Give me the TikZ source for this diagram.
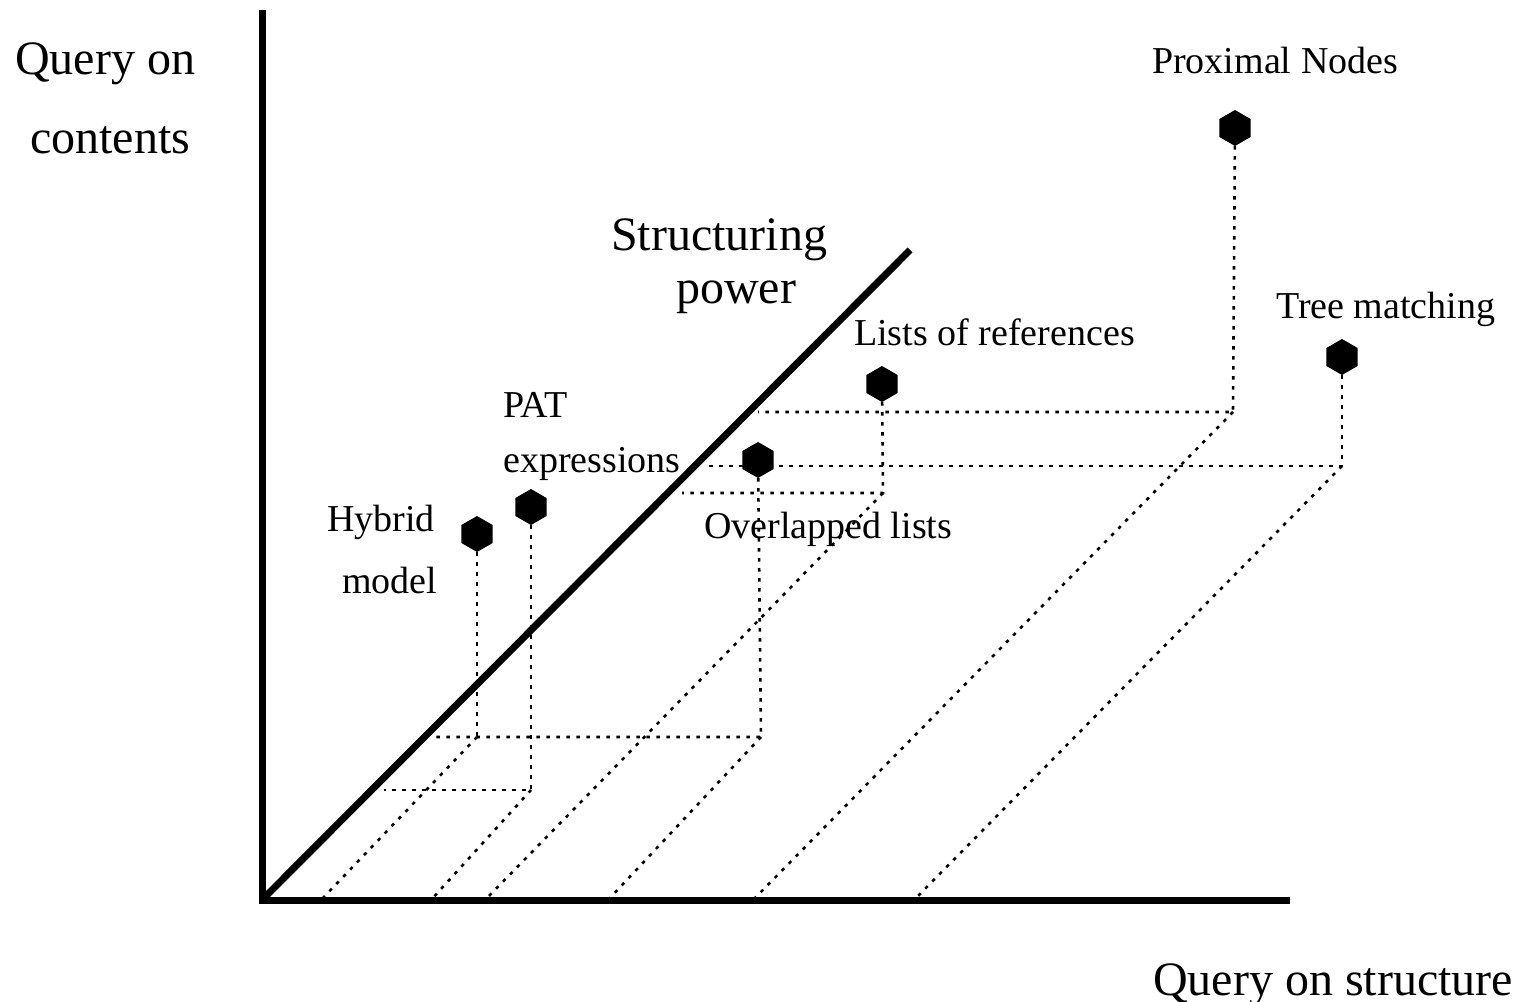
\documentclass[tikz,border=0pt]{standalone}
\usepackage{fontspec}
\setmainfont{Liberation Serif}
\usetikzlibrary{shapes.geometric}
\begin{document}
\begin{tikzpicture}[x=1pt,y=-1pt,
  axis/.style={line width=7pt},
  guide/.style={line width=2.6pt, dash pattern=on 3.5pt off 6.5pt},
  mark point/.style={regular polygon, regular polygon sides=6, shape border rotate=30,
    fill=black, draw=none, inner sep=0pt, minimum size=36pt},
  big/.style={font=\fontsize{48}{48}\selectfont, inner sep=0pt, anchor=base west},
  small/.style={font=\fontsize{38}{38}\selectfont, inner sep=0pt, anchor=base west}]
\useasboundingbox (0,0) rectangle (1525,1001);

% axes and the structuring-power diagonal
\coordinate (O) at (262,900);
\coordinate (Ytop) at (262,10);
\coordinate (Xend) at (1290,900);
\coordinate (Dend) at (910,250);
\draw[axis] (Ytop) -- (O) -- (Xend);
\draw[axis] (O) -- (Dend);

% models
\node[mark point] (prox) at (1235,128) {};
\node[mark point] (tree) at (1342,357) {};
\node[mark point] (lref) at (882,384) {};
\node[mark point] (ovl)  at (758,460) {};
\node[mark point] (pat)  at (531,507) {};
\node[mark point] (hyb)  at (477,534) {};

% projection corners
\coordinate (proxC) at (1233,412); \coordinate (proxD) at (758,412); \coordinate (proxX) at (753,900);
\coordinate (treeC) at (1342,466); \coordinate (treeD) at (704,466); \coordinate (treeX) at (914,900);
\coordinate (lrefC) at (883,493);  \coordinate (lrefD) at (682,493); \coordinate (lrefX) at (485,900);
\coordinate (ovlC)  at (761,737);  \coordinate (ovlD)  at (430,737); \coordinate (ovlX)  at (608,900);
\coordinate (patC)  at (531,790);  \coordinate (patD)  at (384,790); \coordinate (patX)  at (431,900);
\coordinate (hybC)  at (477,737);  \coordinate (hybX)  at (321,900);

% dotted projections
\draw[guide] (prox) -- (proxC) -- (proxD);
\draw[guide] (proxC) -- (proxX);
\draw[guide] (tree) -- (treeC) -- (treeD);
\draw[guide] (treeC) -- (treeX);
\draw[guide] (lref) -- (lrefC) -- (lrefD);
\draw[guide] (lrefC) -- (lrefX);
\draw[guide] (ovl) -- (ovlC) -- (ovlD);
\draw[guide] (ovlC) -- (ovlX);
\draw[guide] (pat) -- (patC) -- (patD);
\draw[guide] (patC) -- (patX);
\draw[guide] (hyb) -- (hybC);
\draw[guide] (hybC) -- (hybX);

% axis labels
\node[big] (qc1) at (15,74) {Query on};
\node[big] (qc2) at (30,153) {contents};
\node[big] (sp1) at (611,250) {Structuring};
\node[big] (sp2) at (676,303) {power};
\node[big] (qs)  at (1153,995) {Query on structure};

% model labels
\node[small] (lprox) at (1152,73)  {Proximal Nodes};
\node[small] (ltree) at (1276,318) {Tree matching};
\node[small] (llref) at (854,345)  {Lists of references};
\node[small] (lovl)  at (704,538)  {Overlapped lists};
\node[small] (lpat1) at (503,417)  {PAT};
\node[small] (lpat2) at (503,472)  {expressions};
\node[small] (lhyb1) at (327,531)  {Hybrid};
\node[small] (lhyb2) at (342,593)  {model};
\end{tikzpicture}
\end{document}
